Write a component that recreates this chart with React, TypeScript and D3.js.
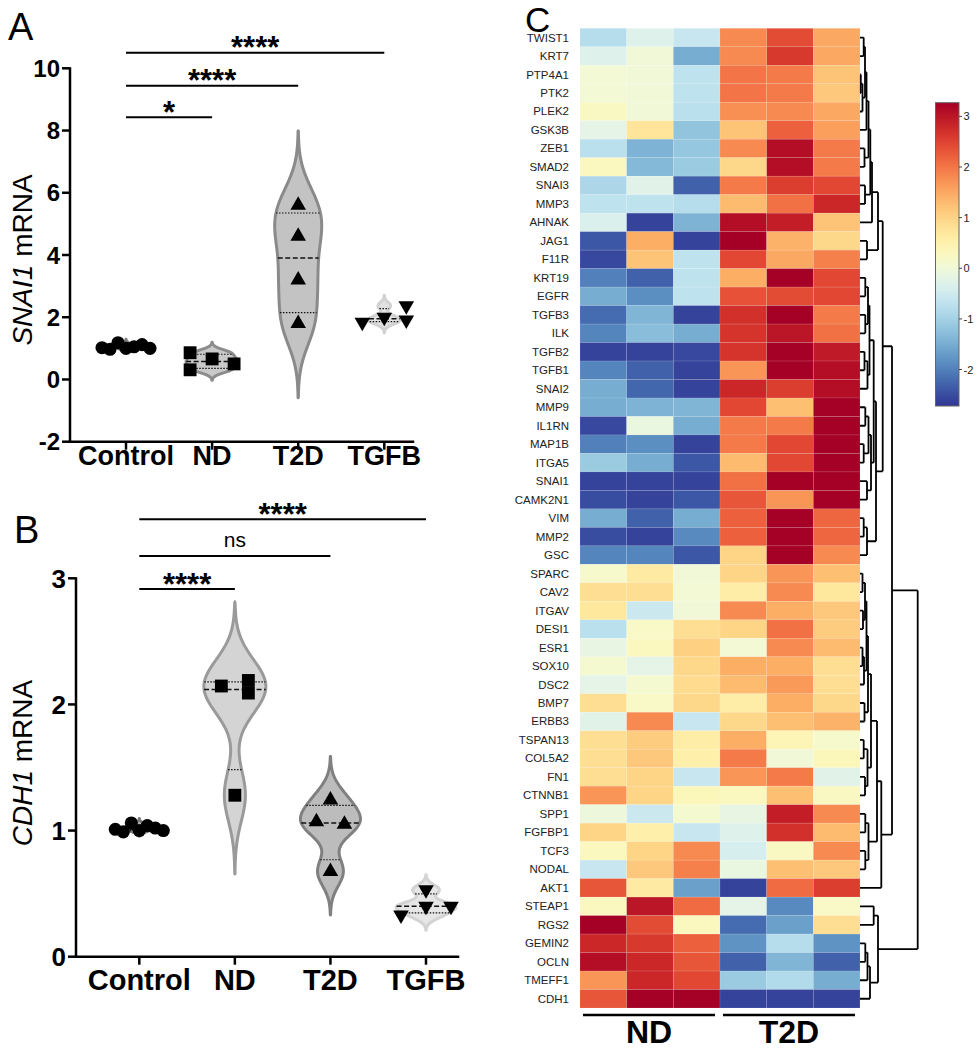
import React from "react";
import * as d3 from "d3";

const FONT = '"Liberation Sans", Arial, Helvetica, sans-serif';

// ---------- panels A / B data ----------
const groups = ["Control", "ND", "T2D", "TGFB"];

// SNAI1 mRNA (panel A)
const snai1Control = [1.0, 1.05, 1.18, 1.12, 0.97, 1.0, 1.02];
const snai1ND = [0.66, 0.5, 0.86, 0.31];
const snai1T2D = [5.6, 4.6, 3.2, 1.8];
const snai1TGFB = [2.0, 2.37, 1.91, 1.84];
const snai1Ticks = [-2, 0, 2, 4, 6, 8, 10];
const snai1Sig = [
  { to: "TGFB", label: "****" },
  { to: "T2D", label: "****" },
  { to: "ND", label: "*" },
];

// CDH1 mRNA (panel B)
const cdh1Control = [1.0, 1.04, 1.06, 1.02, 0.99, 1.0, 1.01];
const cdh1ND = [2.19, 2.146, 2.09, 1.28];
const cdh1T2D = [1.243, 1.05, 1.07, 0.675];
const cdh1TGFB = [0.4, 0.4, 0.33, 0.53];
const cdh1Ticks = [0, 1, 2, 3];
const cdh1Sig = [
  { to: "TGFB", label: "****" },
  { to: "T2D", label: "ns" },
  { to: "ND", label: "****" },
];

// ---------- heatmap data (panel C) ----------
const genes = [
  "TWIST1", "KRT7", "PTP4A1", "PTK2", "PLEK2", "GSK3B", "ZEB1", "SMAD2", "SNAI3", "MMP3",
  "AHNAK", "JAG1", "F11R", "KRT19", "EGFR", "TGFB3", "ILK", "TGFB2", "TGFB1", "SNAI2",
  "MMP9", "IL1RN", "MAP1B", "ITGA5", "SNAI1", "CAMK2N1", "VIM", "MMP2", "GSC", "SPARC",
  "CAV2", "ITGAV", "DESI1", "ESR1", "SOX10", "DSC2", "BMP7", "ERBB3", "TSPAN13", "COL5A2",
  "FN1", "CTNNB1", "SPP1", "FGFBP1", "TCF3", "NODAL", "AKT1", "STEAP1", "RGS2", "GEMIN2",
  "OCLN", "TMEFF1", "CDH1",
];
const samples = ["ND1", "ND2", "ND3", "T2D1", "T2D2", "T2D3"];
const sampleGroups = ["ND", "T2D"];

const nd1 = [
  -0.8, -0.3, 0.05, 0.05, 0.25, -0.2, -0.75, 0.3, -0.9, -0.7,
  -0.35, -2.4, -2.55, -2.0, -1.5, -2.2, -1.95, -2.6, -1.95, -1.5,
  -1.5, -2.55, -2.0, -1.1, -2.6, -2.5, -1.5, -2.5, -1.95, 0.15,
  0.85, 0.7, -0.75, -0.15, 0.1, -0.2, 0.85, -0.25, 0.85, 0.85,
  0.85, 1.7, -0.05, 1.0, 0.3, -0.6, 2.3, 0.3, 3.3, 2.8,
  3.1, 1.7, 2.3,
];
const nd2 = [
  -0.3, 0.0, 0.0, 0.0, 0.0, 0.75, -1.42, -1.35, -0.25, -0.7,
  -2.6, 1.45, 1.2, -2.3, -1.85, -1.4, -1.3, -2.6, -2.3, -2.25,
  -1.42, -0.1, -1.85, -1.5, -2.6, -2.6, -2.3, -2.6, -1.95, 0.65,
  0.85, -0.55, 0.2, 0.3, -0.2, 0.1, 0.2, 1.8, 1.1, 1.15,
  1.0, 1.0, -0.55, 0.55, 1.0, 1.15, 0.65, 3.0, 2.4, 2.6,
  2.8, 2.8, 3.3,
];
const nd3 = [
  -0.6, -1.5, -0.7, -0.7, -0.75, -1.2, -1.15, -1.1, -2.3, -0.8,
  -1.42, -2.6, -0.7, -0.7, -0.7, -2.6, -1.5, -2.55, -2.6, -2.6,
  -1.4, -1.5, -2.6, -2.4, -2.6, -2.4, -1.5, -1.9, -2.4, 0.0,
  0.05, 0.0, 0.85, 1.05, 0.95, 0.9, 0.95, -0.6, 0.6, 0.55,
  -0.6, 0.35, 0.1, -0.6, 1.8, 1.9, -1.65, 2.1, 0.3, 2.2,
  2.3, 2.45, 3.3,
];
const t2d1 = [
  1.8, 1.8, 2.0, 2.0, 1.75, 1.2, 1.8, 0.95, 1.95, 1.3,
  3.1, 3.3, 2.45, 1.45, 2.35, 2.7, 2.65, 2.65, 1.7, 2.8,
  2.45, 1.95, 1.95, 1.3, 2.05, 2.3, 2.2, 2.2, 1.0, 1.0,
  0.6, 1.8, 1.0, 0.05, 1.45, 1.3, 0.6, 0.95, 1.45, 1.95,
  1.7, 0.3, -0.15, -0.3, -0.4, -0.1, -2.6, -0.2, -2.2, -1.8,
  -2.3, -1.1, -2.6,
];
const t2d2 = [
  2.4, 2.6, 1.95, 1.95, 1.8, 2.2, 3.1, 3.1, 2.55, 2.05,
  2.9, 1.4, 1.5, 3.3, 2.4, 3.3, 3.0, 3.3, 3.3, 2.55,
  1.25, 1.95, 2.45, 2.45, 3.3, 1.7, 3.3, 3.3, 3.3, 1.7,
  1.8, 1.45, 2.05, 1.8, 1.45, 1.65, 1.45, 1.25, 0.4, 0.0,
  1.95, 1.25, 2.9, 2.7, 0.25, 1.25, 2.1, -1.9, -1.65, -0.8,
  -1.4, -0.85, -2.6,
];
const t2d3 = [
  1.5, 1.5, 1.2, 1.15, 1.5, 1.6, 1.95, 1.95, 2.45, 2.8,
  1.2, 0.95, 1.9, 2.45, 2.45, 1.95, 2.05, 2.95, 3.1, 3.1,
  3.3, 3.3, 3.3, 3.3, 3.3, 3.3, 2.15, 2.15, 1.8, 1.25,
  0.7, 1.15, 1.1, 1.3, 0.85, 0.85, 0.95, 1.4, 0.15, 0.35,
  -0.25, 0.25, 1.8, 1.3, 1.8, 1.15, 2.55, 0.2, 0.85, -1.8,
  -2.3, -1.5, -2.6,
];
const colorDomain = [-2.72, 3.27];
const colorTicks = [-2, -1, 0, 1, 2, 3];

// row dendrogram: merge heights
type Tree = string | { h: number; c: Tree[] };
const join = (h: number, a: Tree, b: Tree): Tree => ({ h, c: [a, b] });

const topCluster = join(22.7,
  join(18,
    join(12,
      join(10.3,
        join(8.5,
          join(6.5,
            join(5, join(3.7, "TWIST1", "KRT7"), join(2.5, join(0.8, "PTP4A1", "PTK2"), "PLEK2")),
            "GSK3B"),
          join(4.5, "ZEB1", "SMAD2")),
        join(5, "SNAI3", "MMP3")),
      "AHNAK"),
    join(7, "JAG1", "F11R")),
  join(16,
    join(13.7,
      join(9.5,
        join(8, join(5.3, "KRT19", "EGFR"), join(5.3, "TGFB3", "ILK")),
        join(7.5, join(4.5, "TGFB2", "TGFB1"), "SNAI2")),
      join(11,
        join(8.5, join(5.3, "MMP9", "IL1RN"), join(3.7, "MAP1B", "ITGA5")),
        join(7, "SNAI1", "CAMK2N1"))),
    join(7, join(3.7, "VIM", "MMP2"), "GSC")));

const midCluster = join(21.3,
  join(17,
    join(11,
      join(8,
        join(6.5,
          join(5, join(2.5, "SPARC", "CAV2"), join(3, "ITGAV", "DESI1")),
          join(4, join(2.5, "ESR1", "SOX10"), "DSC2")),
        join(4.5, "BMP7", "ERBB3")),
      join(7.5, join(3.7, "TSPAN13", "COL5A2"), join(5, "FN1", "CTNNB1"))),
    join(8.5, join(5.3, "SPP1", "FGFBP1"), join(5.3, "TCF3", "NODAL"))),
  "AKT1");

const lowCluster = join(18,
  join(13.7, "STEAP1", "RGS2"),
  join(10, join(7.5, join(5.3, "GEMIN2", "OCLN"), "TMEFF1"), "CDH1"));

const rowDendrogram = join(57.7, join(32, topCluster, midCluster), lowCluster);

// ---------- layout ----------
const panelA = {
  series: [snai1Control, snai1ND, snai1T2D, snai1TGFB],
  ticks: snai1Ticks,
  sig: snai1Sig,
  yDomain: [-2, 10],
  yRange: [441.7, 68.3],
  xRange: [126, 384.3],
  axisX: 70,
  axisEnd: 413,
  sigY: [52.7, 85.7, 117.3],
  tickFs: 24,
  catFs: 27,
  catBase: 465,
  yLabel: ["SNAI1", " mRNA"],
  yLabelPos: [32, 260],
  halfWidths: [8, 26, 23.5, 16],
  steps: [8, 22, 22, 22],
  fills: ["#bdbdbd", "#c9c9c9", "#c3c3c3", "#e2e2e2"],
  strokes: ["#7a7a7a", "#8c8c8c", "#8a8a8a", "#d2d2d2"],
  panel: "A",
  panelPos: [8, 40],
};

const panelB = {
  series: [cdh1Control, cdh1ND, cdh1T2D, cdh1TGFB],
  ticks: cdh1Ticks,
  sig: cdh1Sig,
  yDomain: [0, 3],
  yRange: [956.7, 578.3],
  xRange: [139.3, 426],
  axisX: 76,
  axisEnd: 458,
  sigY: [519.3, 556, 589],
  tickFs: 26,
  catFs: 29,
  catBase: 990,
  yLabel: ["CDH1", " mRNA"],
  yLabelPos: [32, 763],
  halfWidths: [10, 31, 30, 30],
  steps: [8, 27, 28, 25],
  fills: ["#bdbdbd", "#d4d4d4", "#bcbcbc", "#e6e6e6"],
  strokes: ["#7a7a7a", "#9a9a9a", "#808080", "#d3d3d3"],
  panel: "B",
  panelPos: [14, 543],
};

const symbolTypes = [d3.symbolCircle, d3.symbolSquare, d3.symbolTriangle, d3.symbolTriangle];
const symbolSizes = [135, 165, 105, 105];
const symbolRotation = [0, 0, 0, 180];

// GraphPad style quantile ((n+1)p)
function gpQuantile(vals: number[], p: number) {
  const s = vals.slice().sort(d3.ascending);
  const pos = (s.length + 1) * p - 1;
  const i = Math.floor(pos);
  if (i < 0) return s[0];
  if (i >= s.length - 1) return s[s.length - 1];
  return s[i] + (pos - i) * (s[i + 1] - s[i]);
}

function violinShape(vals: number[], y: d3.ScaleLinear<number, number>, cx: number, half: number) {
  const bw = 0.48 * (d3.deviation(vals) || 0.05);
  const lo = d3.min(vals)! - 3 * bw;
  const hi = d3.max(vals)! + 3 * bw;
  const kde = (v: number) => d3.sum(vals, (s) => Math.exp(-0.5 * ((v - s) / bw) ** 2));
  const grid = d3.range(101).map((i) => lo + ((hi - lo) * i) / 100);
  const peak = d3.max(grid, kde)!;
  const w = (v: number) => (v < lo || v > hi ? 0 : (half * kde(v)) / peak);
  const area = d3
    .area<number>()
    .y((v) => y(v))
    .x0((v) => cx - w(v))
    .x1((v) => cx + w(v))
    .curve(d3.curveCatmullRom);
  return { d: area(grid)!, w };
}

function colOffset(c: number, n: number, step: number) {
  if (n % 2 === 1) {
    const k = Math.ceil(c / 2);
    return (c % 2 === 1 ? k : -k) * step;
  }
  const k = Math.floor(c / 2) + 0.5;
  return (c % 2 === 0 ? k : -k) * step;
}

// simple scatter spreading of points that share a height
function spread(vals: number[], y: d3.ScaleLinear<number, number>, step: number, thr = 12) {
  const py = vals.map((v) => y(v));
  const parent = vals.map((_, i) => i);
  const find = (i: number): number => (parent[i] === i ? i : (parent[i] = find(parent[i])));
  vals.forEach((_, i) =>
    vals.forEach((__, j) => {
      if (j > i && Math.abs(py[i] - py[j]) < thr) parent[find(i)] = find(j);
    })
  );
  const col: number[] = [];
  const nCols = new Map<number, number>();
  vals.forEach((_, i) => {
    let c = 0;
    const clash = (cc: number) =>
      col.some((cj, j) => find(j) === find(i) && cj === cc && Math.abs(py[j] - py[i]) < thr);
    while (clash(c)) c++;
    col.push(c);
    nCols.set(find(i), Math.max(nCols.get(find(i)) ?? 0, c + 1));
  });
  return vals.map((v, i) => ({ v, y: py[i], dx: colOffset(col[i], nCols.get(find(i))!, step) }));
}

type Panel = typeof panelA;

function ViolinPanel({ p }: { p: Panel }) {
  const y = d3.scaleLinear().domain(p.yDomain).range(p.yRange);
  const x = d3.scalePoint<string>().domain(groups).range(p.xRange as [number, number]);
  const y0 = p.yRange[0];
  const yTop = p.yRange[1];
  const ast = 31;
  return (
    <g>
      <text x={p.panelPos[0]} y={p.panelPos[1]} fontSize={38} fill="#000">
        {p.panel}
      </text>
      {/* violins */}
      {p.series.map((vals, gi) => {
        const cx = x(groups[gi])!;
        const shape = violinShape(vals, y, cx, p.halfWidths[gi]);
        const med = gpQuantile(vals, 0.5);
        const q1 = gpQuantile(vals, 0.25);
        const q3 = gpQuantile(vals, 0.75);
        return (
          <g key={gi}>
            <path d={shape.d} fill={p.fills[gi]} stroke={p.strokes[gi]} strokeWidth={3} strokeLinejoin="round" />
            {[q1, q3].map((q, k) => (
              <line key={k} x1={cx - shape.w(q)} x2={cx + shape.w(q)} y1={y(q)} y2={y(q)}
                stroke="#111" strokeWidth={1.2} strokeDasharray="1.5 1.5" />
            ))}
            <line x1={cx - shape.w(med)} x2={cx + shape.w(med)} y1={y(med)} y2={y(med)}
              stroke="#111" strokeWidth={1.5} strokeDasharray="5 2.5" />
          </g>
        );
      })}
      {/* points */}
      {p.series.map((vals, gi) => {
        const cx = x(groups[gi])!;
        const sym = d3.symbol().type(symbolTypes[gi]).size(symbolSizes[gi])()!;
        return spread(vals, y, p.steps[gi]).map((pt, k) => (
          <path key={`${gi}-${k}`} d={sym} fill="#000"
            transform={`translate(${cx + pt.dx},${pt.y}) rotate(${symbolRotation[gi]})`} />
        ));
      })}
      {/* axes */}
      <line x1={p.axisX} x2={p.axisX} y1={yTop - 1} y2={y0} stroke="#000" strokeWidth={2.5} />
      <line x1={p.axisX} x2={p.axisEnd} y1={y0} y2={y0} stroke="#000" strokeWidth={2.5} strokeLinecap="square" />
      {p.ticks.map((t) => (
        <g key={t}>
          <line x1={p.axisX - 8} x2={p.axisX} y1={y(t)} y2={y(t)} stroke="#000" strokeWidth={2.5} />
          <text x={p.axisX - 10} y={y(t) + p.tickFs * 0.36} textAnchor="end" fontSize={p.tickFs} fontWeight="bold">
            {t}
          </text>
        </g>
      ))}
      {groups.map((g) => (
        <g key={g}>
          <line x1={x(g)} x2={x(g)} y1={y0} y2={y0 + 8} stroke="#000" strokeWidth={2.5} />
          <text x={x(g)} y={p.catBase} textAnchor="middle" fontSize={p.catFs} fontWeight="bold">
            {g}
          </text>
        </g>
      ))}
      <text transform={`translate(${p.yLabelPos[0]},${p.yLabelPos[1]}) rotate(-90)`} textAnchor="middle" fontSize={28}>
        <tspan fontStyle="italic">{p.yLabel[0]}</tspan>
        <tspan>{p.yLabel[1]}</tspan>
      </text>
      {/* significance bars */}
      {p.sig.map((s, k) => {
        const xa = x(groups[0])!;
        const xb = x(s.to)!;
        const ly = p.sigY[k];
        const isStar = s.label.includes("*");
        return (
          <g key={k}>
            <line x1={xa} x2={xb} y1={ly} y2={ly} stroke="#000" strokeWidth={2} />
            <text x={(xa + xb) / 2} y={isStar ? ly - 12 + ast * 0.57 : ly - 9.5} textAnchor="middle"
              fontSize={isStar ? ast : 21} fontWeight={isStar ? "bold" : "normal"}>
              {s.label}
            </text>
          </g>
        );
      })}
    </g>
  );
}

function Heatmap() {
  const cols = [nd1, nd2, nd3, t2d1, t2d2, t2d3];
  const hx = d3.scaleBand<string>().domain(samples).range([580, 860]);
  const hy = d3.scaleBand<string>().domain(genes).range([28.3, 1008]);
  const color = d3.scaleSequential((t: number) => d3.interpolateRdYlBu(1 - t)).domain(colorDomain as [number, number]);

  // dendrogram
  const root = d3.hierarchy<Tree>(rowDendrogram, (d) => (typeof d === "string" ? null : d.c));
  const dx = d3.scaleLinear().domain([0, 57.7]).range([860, 917.7]);
  const pos = new Map<d3.HierarchyNode<Tree>, { x: number; y: number }>();
  root.eachAfter((n) => {
    if (typeof n.data === "string") {
      pos.set(n, { x: dx(0), y: hy(n.data)! + hy.bandwidth() / 2 });
    } else {
      const ch = n.children!.map((c) => pos.get(c)!);
      pos.set(n, { x: dx(n.data.h), y: (ch[0].y + ch[ch.length - 1].y) / 2 });
    }
  });
  const links: string[] = [];
  root.each((n) => {
    if (!n.children) return;
    const pn = pos.get(n)!;
    const ch = n.children.map((c) => pos.get(c)!);
    const path = d3.path();
    path.moveTo(pn.x, ch[0].y);
    path.lineTo(pn.x, ch[ch.length - 1].y);
    ch.forEach((c) => {
      path.moveTo(c.x, c.y);
      path.lineTo(pn.x, c.y);
    });
    links.push(path.toString());
  });

  // color bar
  const cbY = d3.scaleLinear().domain(colorDomain).range([406, 102.7]);
  const stops = d3.range(0, 1.0001, 0.05);

  return (
    <g>
      <text x={525} y={32} fontSize={35}>C</text>
      {genes.map((g, r) =>
        cols.map((col, c) => (
          <rect key={`${g}-${c}`} x={hx(samples[c])} y={hy(g)} width={hx.bandwidth()} height={hy.bandwidth()}
            fill={color(col[r])} stroke="rgba(255,255,255,0.18)" strokeWidth={0.6} />
        ))
      )}
      {genes.map((g) => (
        <text key={g} x={569} y={hy(g)! + hy.bandwidth() / 2 + 4} textAnchor="end" fontSize={11.5} fill="#222">
          {g}
        </text>
      ))}
      {links.map((d, i) => (
        <path key={i} d={d} fill="none" stroke="#000" strokeWidth={1.8} />
      ))}
      {sampleGroups.map((g, i) => {
        const x1 = hx(samples[i * 3])! + 3;
        const x2 = hx(samples[i * 3 + 2])! + hx.bandwidth() - 5;
        return (
          <g key={g}>
            <line x1={x1} x2={x2} y1={1015} y2={1015} stroke="#000" strokeWidth={2.5} />
            <text x={(x1 + x2) / 2} y={1043} textAnchor="middle" fontSize={32} fontWeight="bold">
              {g}
            </text>
          </g>
        );
      })}
      <defs>
        <linearGradient id="cbar" x1="0" y1="1" x2="0" y2="0">
          {stops.map((s) => (
            <stop key={s} offset={s} stopColor={color(colorDomain[0] + s * (colorDomain[1] - colorDomain[0]))} />
          ))}
        </linearGradient>
      </defs>
      <rect x={935.5} y={102.7} width={23.5} height={406 - 102.7} fill="url(#cbar)" stroke="#666" strokeWidth={1} />
      {colorTicks.map((t) => (
        <g key={t}>
          <line x1={959} x2={962} y1={cbY(t)} y2={cbY(t)} stroke="#444" strokeWidth={1} />
          <text x={963.5} y={cbY(t) + 4} fontSize={11} fill="#222">
            {t}
          </text>
        </g>
      ))}
    </g>
  );
}

export default function App() {
  return (
    <svg width={979} height={1050} style={{ position: "absolute", left: 0, top: 0, background: "#fff" }}
      fontFamily={FONT}>
      <rect width={979} height={1050} fill="#fff" />
      <ViolinPanel p={panelA} />
      <ViolinPanel p={panelB} />
      <Heatmap />
    </svg>
  );
}
